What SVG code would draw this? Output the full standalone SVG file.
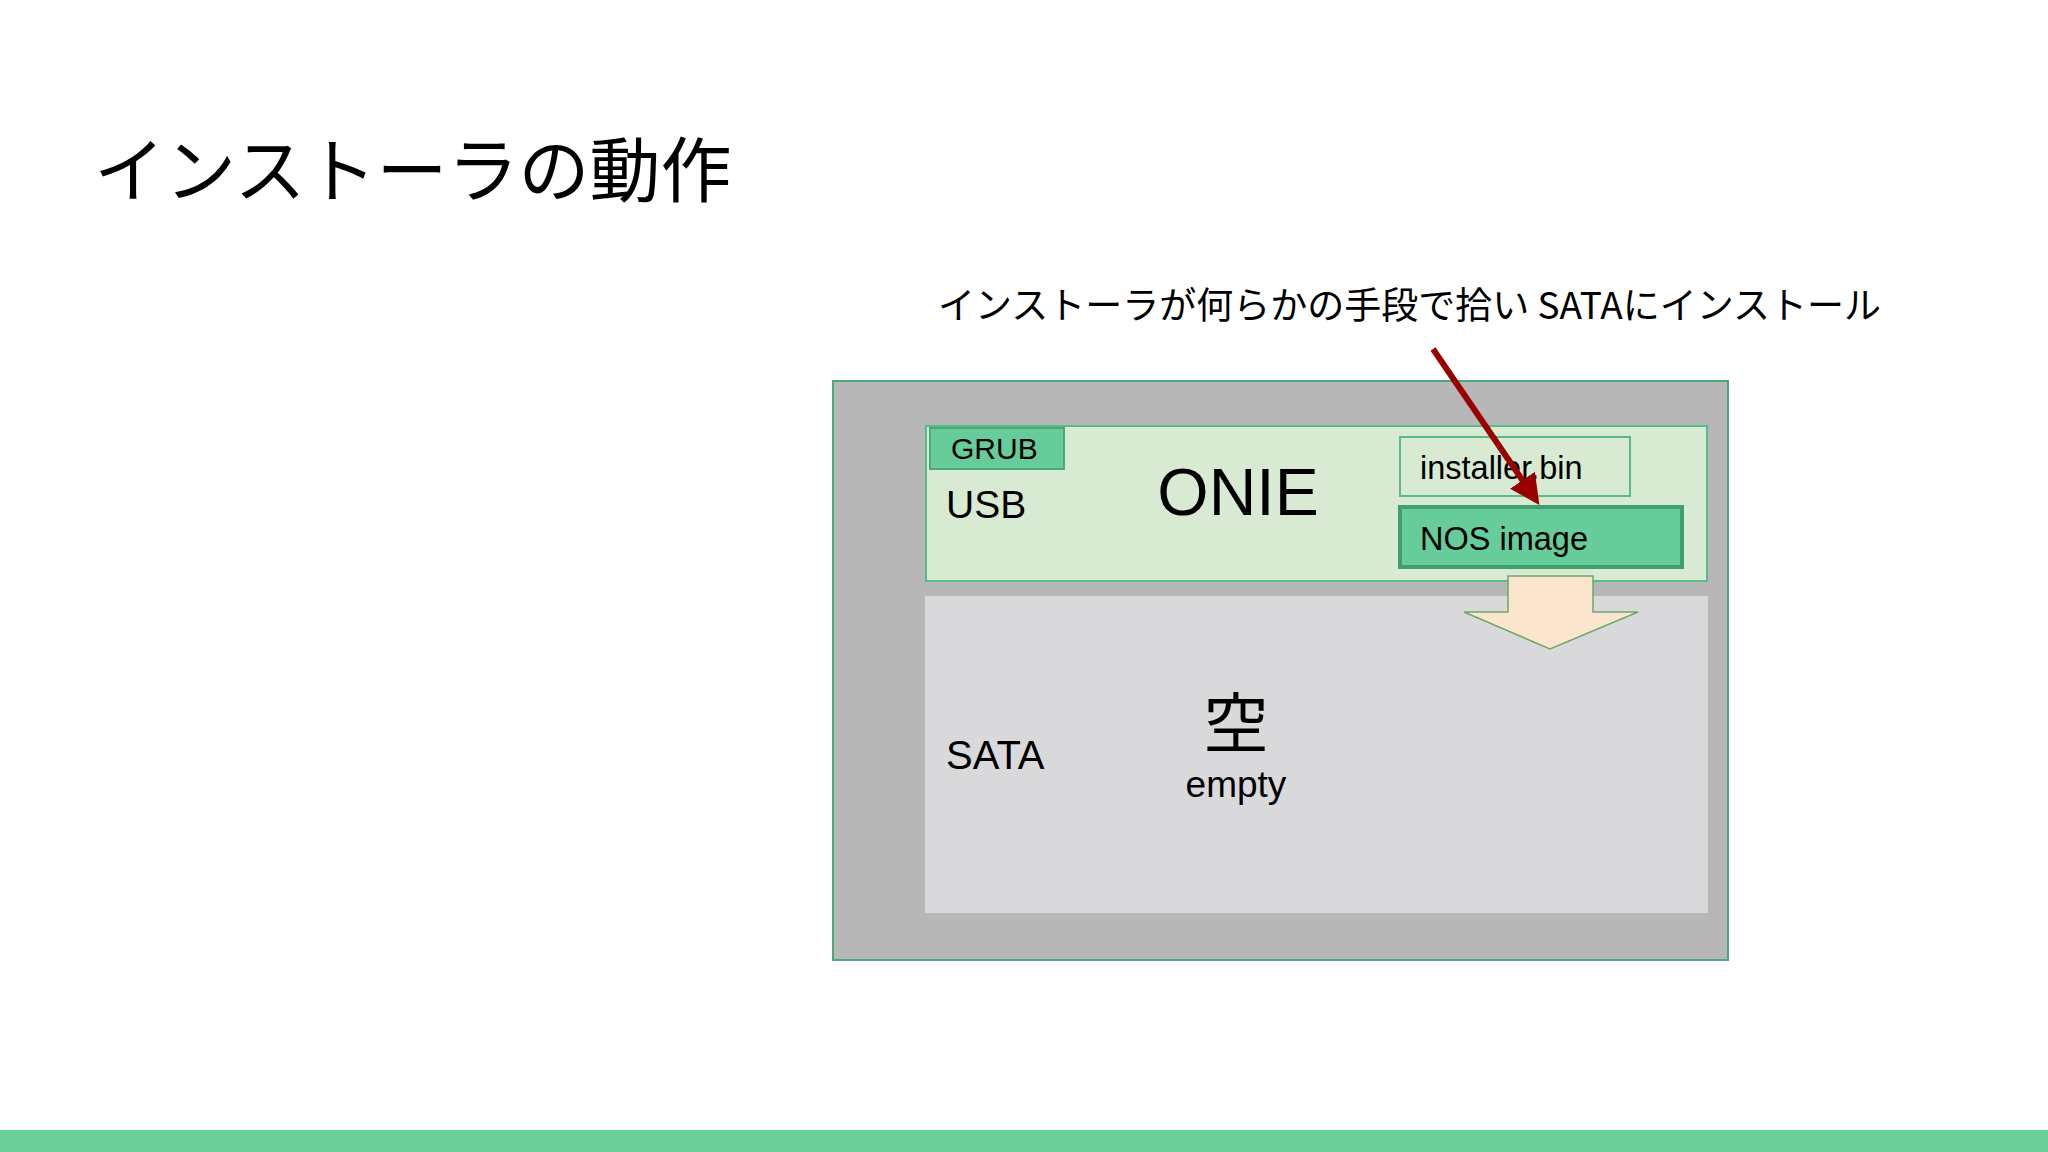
<svg xmlns="http://www.w3.org/2000/svg" width="2048" height="1152" viewBox="0 0 2048 1152">
<style>
text{font-family:"Liberation Sans","Noto Sans CJK JP",sans-serif;fill:#000}
.jp{font-family:"Noto Sans CJK JP",sans-serif}
.lg{fill:#d9ead3;stroke:#57bb8a;stroke-width:2}
.g{fill:#66cc99}
</style>
<defs><marker id="ah" viewBox="0 0 10 10" refX="8" refY="5" markerWidth="5" markerHeight="5" orient="auto"><path d="M0,0L10,5L0,10z" fill="#990000"/></marker></defs>
<rect width="2048" height="1152" fill="#fff"/>
<text x="94" y="196" class="jp" font-size="71" fill="#222">インストーラの動作</text>
<text x="938" y="319" class="jp" font-size="37">インストーラが何らかの手段で拾い SATAにインストール</text>
<g id="outer"><rect x="833" y="381" width="895" height="579" fill="#b7b7b7" stroke="#4aa87a" stroke-width="2"/></g>
<g id="usb"><rect x="926" y="426" width="781" height="155" class="lg"/>
<text x="946" y="518" font-size="39">USB</text>
<text x="1238" y="515" font-size="66" text-anchor="middle">ONIE</text></g>
<g id="grub"><rect x="930" y="428" width="134" height="41" class="g" stroke="#4aa87a" stroke-width="2"/><text x="951" y="459" font-size="30">GRUB</text></g>
<g id="installer"><rect x="1400" y="437" width="230" height="59" class="lg"/><text x="1420" y="479" font-size="32.5">installer.bin</text></g>
<g id="nos"><rect x="1400" y="507" width="282" height="60" class="g" stroke="#3f9f6f" stroke-width="4"/><text x="1420" y="550" font-size="32.5">NOS image</text></g>
<g id="sata"><rect x="925" y="596" width="783" height="317" fill="#d9d9dc"/>
<text x="946" y="769" font-size="40">SATA</text>
<text x="1236" y="747" class="jp" font-size="65" text-anchor="middle">空</text>
<text x="1236" y="797" font-size="37" text-anchor="middle">empty</text></g>
<g id="connectors">
<path d="M1508,576H1593V612H1638L1550,649L1464,612H1508Z" fill="#fce5cd" stroke="#6aa86a" stroke-width="1.5"/>
<line x1="1433" y1="349" x2="1536" y2="500" stroke="#990000" stroke-width="6" marker-end="url(#ah)"/>
</g>
<rect y="1130" width="2048" height="22" fill="#6acf9a"/>
</svg>
